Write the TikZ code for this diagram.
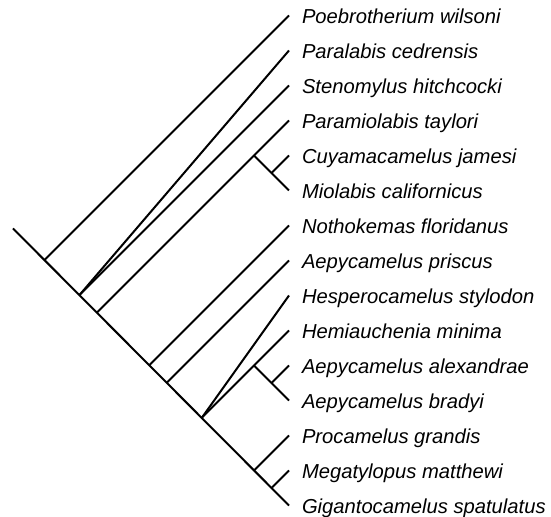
\documentclass[tikz,border=0pt]{standalone}
\usepackage{fontspec}
\setmainfont{Liberation Sans}
\begin{document}
\begin{tikzpicture}[x=0.5pt,y=-0.5pt,line width=1pt,
  font=\fontsize{10.1}{12}\selectfont\itshape,
  taxon/.style={anchor=base west,inner sep=0pt}]
\useasboundingbox (0,0) rectangle (551,517);
% tips and names
\foreach \n/\t [count=\i from 0] in {poe/Poebrotherium wilsoni,pced/Paralabis cedrensis,sten/Stenomylus hitchcocki,ptay/Paramiolabis taylori,cuy/Cuyamacamelus jamesi,mio/Miolabis californicus,noth/Nothokemas floridanus,apri/Aepycamelus priscus,hesp/Hesperocamelus stylodon,hemi/Hemiauchenia minima,alex/Aepycamelus alexandrae,brad/Aepycamelus bradyi,proc/Procamelus grandis,mega/Megatylopus matthewi,giga/Gigantocamelus spatulatus}{
  \coordinate (\n) at (289,15.5+35*\i);
  \node[taxon] (\n-name) at (301,23.5+35*\i) {\t};
}
% branch points
\coordinate (root) at (13,228.5);
\coordinate (b-poe) at (44.5,260);
\coordinate (b-sten) at (79.5,295);
\coordinate (b-ptay) at (97,312.5);
\coordinate (c-mio) at (254,155.5);
\coordinate (c-cuy) at (271.5,173);
\coordinate (b-noth) at (149.5,365);
\coordinate (b-apri) at (167,382.5);
\coordinate (b-hemi) at (202,417.5);
\coordinate (c-brad) at (254,365.5);
\coordinate (c-alex) at (271.5,383);
\coordinate (b-proc) at (254.5,470);
\coordinate (b-mega) at (272,487.5);
% tree
\draw (root) -- (giga);
\draw (b-poe) -- (poe);
\draw (b-sten) -- (pced);
\draw (b-sten) -- (sten);
\draw (b-ptay) -- (ptay);
\draw (c-mio) -- (mio);
\draw (c-cuy) -- (cuy);
\draw (b-noth) -- (noth);
\draw (b-apri) -- (apri);
\draw (b-hemi) -- (hesp);
\draw (b-hemi) -- (hemi);
\draw (c-brad) -- (brad);
\draw (c-alex) -- (alex);
\draw (b-proc) -- (proc);
\draw (b-mega) -- (mega);
\end{tikzpicture}
\end{document}
